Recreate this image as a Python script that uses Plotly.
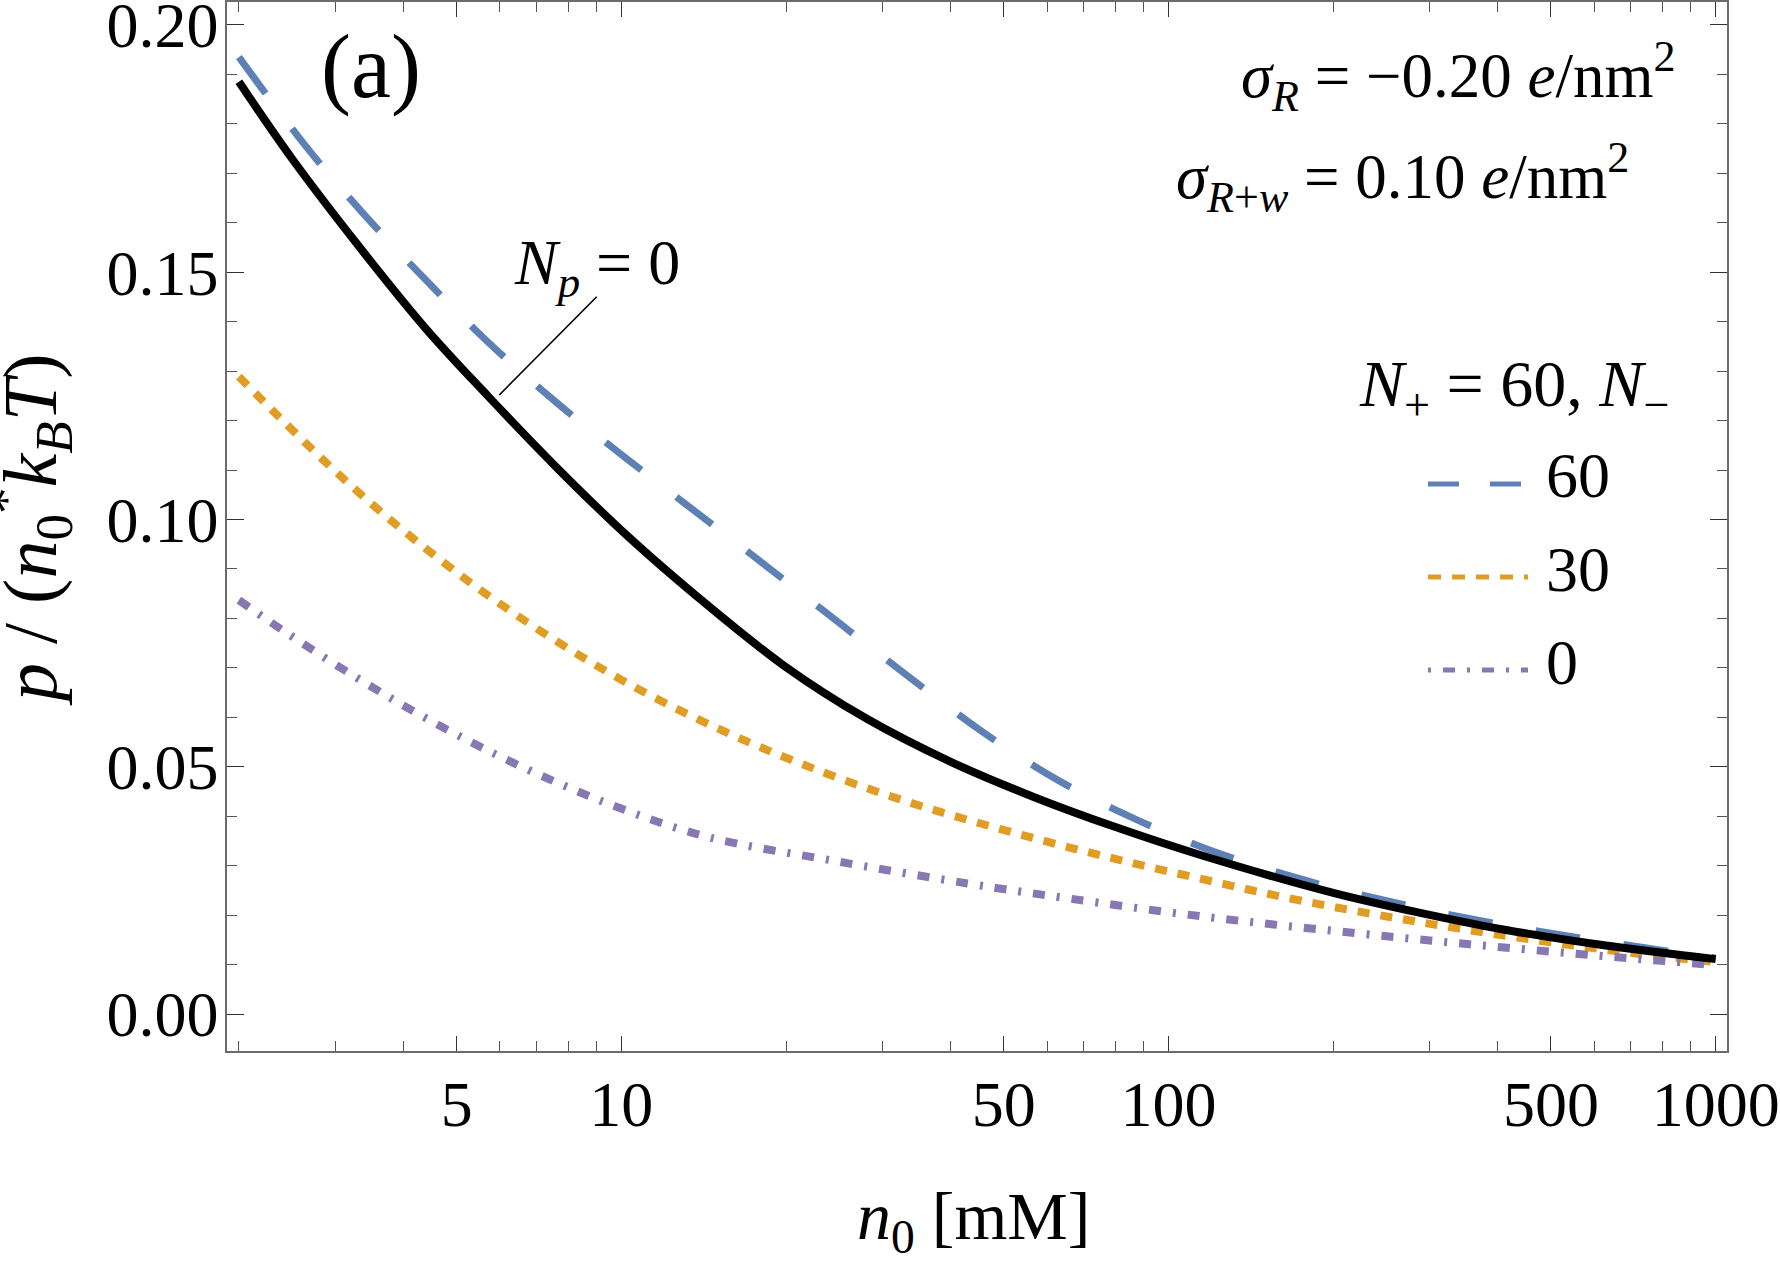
import plotly.graph_objects as go

# ---------------- data ----------------
# N_p = 0 (black solid)
n0_black = [2, 2.5, 3.3, 4.4, 5.7, 7.7, 10.3, 13.9, 19.8, 28, 40, 57, 80, 114, 200, 287, 409, 625, 1000]
p_black = [0.1885, 0.1730, 0.1555, 0.1385, 0.1250, 0.1100, 0.0965, 0.0840, 0.0705, 0.0598,
           0.0510, 0.0438, 0.0378, 0.0322, 0.0245, 0.0205, 0.0171, 0.0139, 0.0111]

# N+ = 60, N- = 60 (blue dashed)
n0_m60 = [2, 2.65, 3.38, 4.36, 5.69, 7.64, 10.2, 14.5, 18.9, 25.2, 33.7, 45.8, 63, 88.6, 125, 181, 262, 378, 550, 1000]
p_m60 = [0.1935, 0.1755, 0.1618, 0.1488, 0.1360, 0.1235, 0.1124, 0.0994, 0.0896, 0.0788,
         0.0680, 0.0570, 0.0472, 0.0390, 0.0323, 0.0268, 0.0224, 0.0187, 0.0156, 0.0113]

# N+ = 60, N- = 30 (orange dotted)
n0_m30 = [2, 2.35, 2.9, 3.63, 4.61, 5.85, 7.74, 10.3, 14.5, 21.2, 32.3, 49.3, 75.1, 114, 175, 287, 471, 720, 1000]
p_m30 = [0.1289, 0.1211, 0.1113, 0.1016, 0.0923, 0.0838, 0.0749, 0.0668, 0.0585, 0.0507,
         0.0434, 0.0374, 0.0321, 0.0274, 0.0229, 0.0186, 0.0149, 0.0122, 0.0105]

# N+ = 60, N- = 0 (purple dot-dashed)
n0_m0 = [2, 2.45, 3.25, 4.3, 5.77, 7.74, 10.3, 14.5, 24.4, 42.9, 65.3, 114, 201, 355, 625, 1000]
p_m0 = [0.0837, 0.0770, 0.0683, 0.0604, 0.0530, 0.0465, 0.0410, 0.0357, 0.0310, 0.0264,
        0.0234, 0.0198, 0.0168, 0.0141, 0.0117, 0.0099]

x_major = [5, 10, 50, 100, 500, 1000]
x_major_text = ["5", "10", "50", "100", "500", "1000"]
x_minor = [2, 3, 4, 6, 7, 8, 9, 20, 30, 40, 60, 70, 80, 90, 200, 300, 400, 600, 700, 800, 900]
y_major = [0.00, 0.05, 0.10, 0.15, 0.20]
y_major_text = ["0.00", "0.05", "0.10", "0.15", "0.20"]
y_minor = [0.01, 0.02, 0.03, 0.04, 0.06, 0.07, 0.08, 0.09, 0.11, 0.12, 0.13, 0.14, 0.16, 0.17, 0.18, 0.19]

legend_values = ["60", "30", "0"]

# ---------------- styling ----------------
BLUE = "#5E81B5"
ORANGE = "#E19C24"
PURPLE = "#8778B3"
FONT = "Liberation Serif"

W, H = 1780, 1263
L, R, T, B = 227, 1727, 2, 1051  # plot-area pixel box


def xp(px):
    return (px - L) / (R - L)


def yp(py):
    return (B - py) / (B - T)


fig = go.Figure()

fig.add_trace(go.Scatter(x=n0_m60, y=p_m60, mode="lines", line_shape="spline",
                         line=dict(color=BLUE, width=7, dash="45px,44px"), hoverinfo="skip"))
fig.add_trace(go.Scatter(x=n0_m30, y=p_m30, mode="lines", line_shape="spline",
                         line=dict(color=ORANGE, width=8, dash="12px,11px"), hoverinfo="skip"))
fig.add_trace(go.Scatter(x=n0_m0, y=p_m0, mode="lines", line_shape="spline",
                         line=dict(color=PURPLE, width=8, dash="12px,12px,3px,12px"), hoverinfo="skip"))
fig.add_trace(go.Scatter(x=n0_black, y=p_black, mode="lines", line_shape="spline",
                         line=dict(color="black", width=8), hoverinfo="skip"))
# dummy trace so the mirrored frame axes are drawn
fig.add_trace(go.Scatter(x=[10], y=[0.1], xaxis="x2", yaxis="y2", mode="markers",
                         marker=dict(opacity=0), hoverinfo="skip"))

xrange = [0.2793, 3.0207]
yrange = [-0.00748, 0.20465]

frame = dict(showgrid=False, zeroline=False, showline=True, linecolor="#6b6b6b", linewidth=1.6,
             ticks="inside", tickwidth=1.3, tickcolor="#333333", automargin=False)
minor_x = dict(tickmode="array", tickvals=x_minor, ticks="inside", ticklen=10,
               tickwidth=1.3, tickcolor="#555555")
minor_y = dict(tickmode="array", tickvals=y_minor, ticks="inside", ticklen=10,
               tickwidth=1.3, tickcolor="#555555")

fig.update_layout(
    width=W, height=H, autosize=False,
    margin=dict(l=L, r=W - R, t=T, b=H - B, pad=0, autoexpand=False),
    plot_bgcolor="white", paper_bgcolor="white", showlegend=False,
    font=dict(family=FONT, size=64, color="black"),
    xaxis=dict(type="log", range=xrange, tickmode="array", tickvals=x_major, ticktext=x_major_text,
               ticklen=15, tickfont=dict(size=64, family=FONT), ticklabelstandoff=-4,
               ticklabeloverflow="allow", minor=minor_x, **frame),
    xaxis2=dict(type="log", range=xrange, overlaying="x", side="top", anchor="y",
                tickmode="array", tickvals=x_major, ticklen=15, showticklabels=False,
                minor=minor_x, **frame),
    yaxis=dict(range=yrange, tickmode="array", tickvals=y_major, ticktext=y_major_text,
               ticklen=17, tickfont=dict(size=64, family=FONT), ticklabelstandoff=-6,
               ticklabeloverflow="allow", minor=minor_y, **frame),
    yaxis2=dict(range=yrange, overlaying="y", side="right", anchor="x",
                tickmode="array", tickvals=y_major, ticklen=17, showticklabels=False,
                minor=minor_y, **frame),
)

ann = []


def add_text(text, px, py, size=64, xanchor="center", angle=0):
    ann.append(dict(text=text, x=xp(px), y=yp(py), xref="paper", yref="paper",
                    xanchor=xanchor, yanchor="middle", showarrow=False, textangle=angle,
                    font=dict(family=FONT, size=size, color="black")))


add_text("(a)", 371, 67, size=90)
add_text("<i>N</i><sub><i>p</i></sub> = 0", 597, 267)
add_text("<i>σ</i><sub><i>R</i></sub> = −0.20 <i>e</i>/nm<sup>2</sup>", 1458, 76, size=63)
add_text("<i>σ</i><sub><i>R</i>+<i>w</i></sub> = 0.10 <i>e</i>/nm<sup>2</sup>", 1402, 177, size=63)
add_text("<i>N</i><sub>+</sub> = 60, <i>N</i><sub>−</sub>", 1514, 388, size=66)
add_text(legend_values[0], 1544, 476, xanchor="left")
add_text(legend_values[1], 1544, 569, xanchor="left")
add_text(legend_values[2], 1544, 662, xanchor="left")
add_text("<i>n</i><sub>0</sub> [mM]", 973, 1220, size=68)
add_text("<i>p</i> / (<i>n</i><sub>0</sub><sup>*</sup><i>k</i><sub><i>B</i></sub><i>T</i>)", 30, 530,
         size=76, angle=-90)

fig.update_layout(annotations=ann)

shapes = [
    # leader line for N_p = 0
    dict(type="line", xref="paper", yref="paper", x0=xp(596.7), y0=yp(296.7), x1=xp(499.3), y1=yp(395),
         line=dict(color="black", width=1.6)),
    # legend samples
    dict(type="line", xref="paper", yref="paper", x0=xp(1428), y0=yp(484), x1=xp(1522), y1=yp(484),
         line=dict(color=BLUE, width=5, dash="31px,31px")),
    dict(type="line", xref="paper", yref="paper", x0=xp(1428), y0=yp(577), x1=xp(1528), y1=yp(577),
         line=dict(color=ORANGE, width=5, dash="13px,11px")),
    dict(type="line", xref="paper", yref="paper", x0=xp(1428), y0=yp(670), x1=xp(1528), y1=yp(670),
         line=dict(color=PURPLE, width=5, dash="3px,12px,12px,12px")),
]
fig.update_layout(shapes=shapes)

fig.write_html("out.html")
